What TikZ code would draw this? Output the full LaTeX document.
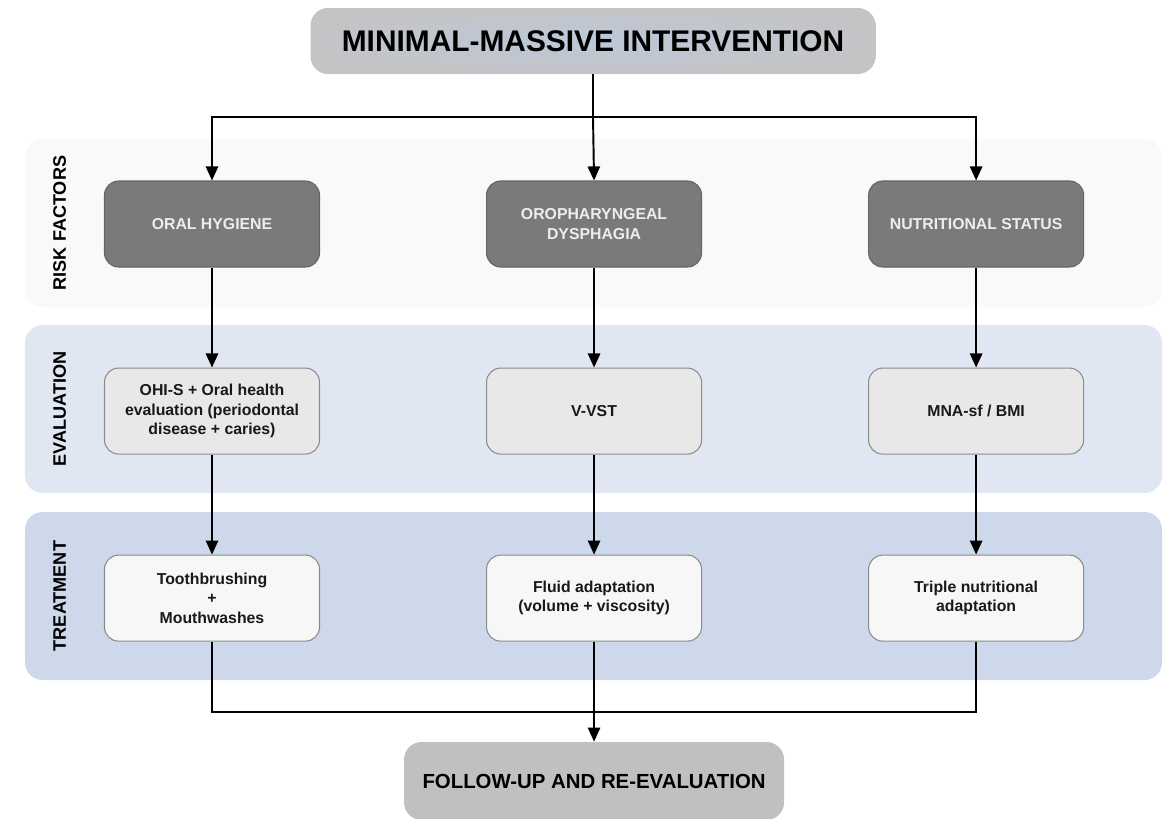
\documentclass[tikz,border=0pt]{standalone}
\usepackage{fontspec}
\setmainfont{Liberation Sans}
\usetikzlibrary{arrows.meta,positioning}
\definecolor{mmiTitleBlue}{RGB}{188, 200, 218}
\definecolor{mmiTitleGrey}{RGB}{196, 196, 198}
\definecolor{mmiRiskBand}{RGB}{248, 249, 251}
\definecolor{mmiEvalBand}{RGB}{225, 231, 242}
\definecolor{mmiTreatBand}{RGB}{205, 216, 234}
\definecolor{mmiDark}{RGB}{122, 122, 122}
\definecolor{mmiDarkEdge}{RGB}{100, 100, 100}
\definecolor{mmiEval}{RGB}{232, 232, 232}
\definecolor{mmiTreat}{RGB}{247, 247, 247}
\definecolor{mmiEdge}{RGB}{140, 140, 140}
\definecolor{mmiFollow}{RGB}{192, 192, 192}

\begin{document}
\begin{tikzpicture}[
  box/.style={
    draw=mmiEdge,
    line width=0.6pt,
    rounded corners=8pt,
    minimum width=4.3cm,
    minimum height=1.72cm,
    align=center,
    text=black!90,
    font=\bfseries\fontsize{9}{11}\selectfont
  },
  riskbox/.style={box,fill=mmiDark,draw=mmiDarkEdge,text=white!93!black},
  evalbox/.style={box,fill=mmiEval},
  treatbox/.style={box,fill=mmiTreat},
  band/.style={
    rounded corners=10pt,
    minimum width=22.74cm,
    minimum height=3.36cm
  },
  bandlabel/.style={rotate=90,font=\bfseries\fontsize{10.3}{12}\selectfont},
  link/.style={line width=1.1pt},
  arrow/.style={link,-{Triangle[length=8pt,width=7pt]}}
]
  \useasboundingbox (0,0) rectangle (23.42,-16.36);

  % background bands
  \node[band,fill=mmiRiskBand] (riskband) at (11.87,-4.46) {};
  \node[band,fill=mmiEvalBand] (evalband) at (11.87,-8.18) {};
  \node[band,fill=mmiTreatBand] (treatband) at (11.87,-11.92) {};
  \node[bandlabel] (risklabel) at ([xshift=0.7cm]riskband.west) {RISK FACTORS};
  \node[bandlabel] (evallabel) at ([xshift=0.7cm]evalband.west) {EVALUATION};
  \node[bandlabel] (treatlabel) at ([xshift=0.7cm]treatband.west) {TREATMENT};

  % header
  \node[draw=none,rounded corners=10pt,minimum width=11.3cm,minimum height=1.32cm,
    shade,shading=radial,inner color=mmiTitleBlue,outer color=mmiTitleGrey,
    font=\bfseries\fontsize{17}{20}\selectfont] (title) at (11.86,-0.82)
    {MINIMAL-MASSIVE INTERVENTION};

  % risk factors
  \node[riskbox] (hygiene) at (4.24,-4.48) {ORAL HYGIENE};
  \node[riskbox,right=3.32cm of hygiene] (dysphagia) {OROPHARYNGEAL\\DYSPHAGIA};
  \node[riskbox,right=3.32cm of dysphagia] (nutrition) {NUTRITIONAL STATUS};

  % evaluation
  \node[evalbox,below=2cm of hygiene] (ohis)
    {OHI-S + Oral health\\evaluation (periodontal\\disease + caries)};
  \node[evalbox,below=2cm of dysphagia] (vvst) {V-VST};
  \node[evalbox,below=2cm of nutrition] (mna) {MNA-sf / BMI};

  % treatment
  \node[treatbox,below=2cm of ohis] (brushing) {Toothbrushing\\+\\Mouthwashes};
  \node[treatbox,below=2cm of vvst] (fluid) {Fluid adaptation\\(volume + viscosity)};
  \node[treatbox,below=2cm of mna] (diet) {Triple nutritional\\adaptation};

  % follow-up
  \node[draw=none,fill=mmiFollow,rounded corners=10pt,minimum width=7.6cm,
    minimum height=1.56cm,font=\bfseries\fontsize{11.6}{14}\selectfont,
    below=2cm of fluid] (followup) {FOLLOW-UP AND RE-EVALUATION};

  \coordinate[below=0.86cm of title.south] (split);
  \coordinate[below=1.4cm of fluid.south] (merge);

  \draw[link] (title.south) -- (split);
  \draw[arrow] (split) -| (hygiene.north);
  \draw[arrow] (split) -- (dysphagia.north);
  \draw[arrow] (split) -| (nutrition.north);

  \draw[arrow] (hygiene) -- (ohis);
  \draw[arrow] (dysphagia) -- (vvst);
  \draw[arrow] (nutrition) -- (mna);
  \draw[arrow] (ohis) -- (brushing);
  \draw[arrow] (vvst) -- (fluid);
  \draw[arrow] (mna) -- (diet);

  \draw[link] (brushing.south) |- (merge);
  \draw[link] (diet.south) |- (merge);
  \draw[arrow] (fluid.south) -- (followup.north);
\end{tikzpicture}
\end{document}
